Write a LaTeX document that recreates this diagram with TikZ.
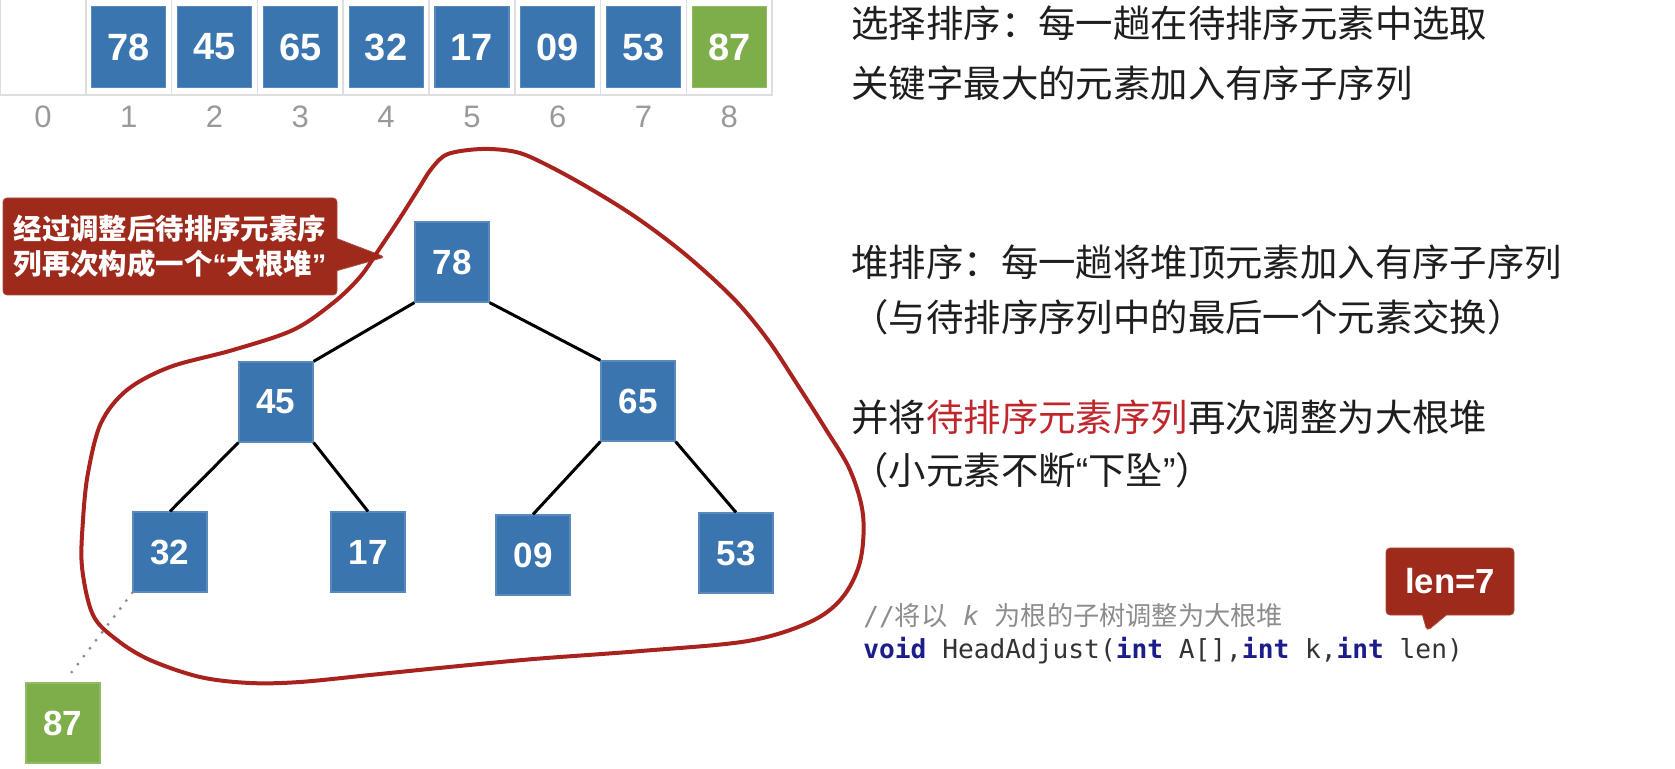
\documentclass[tikz,border=0pt]{standalone}
\usepackage{fontspec}
\setmainfont{Noto Sans CJK SC}
\newfontfamily\numfont{Liberation Sans}
\newfontfamily\codefont{DejaVu Sans Mono}
\usetikzlibrary{shapes.callouts}
\definecolor{heapblue}{RGB}{58,117,176}
\definecolor{heapgreen}{RGB}{125,174,74}
\definecolor{loopred}{RGB}{168,34,30}
\definecolor{notered}{RGB}{158,42,28}
\definecolor{hlred}{RGB}{192,39,45}
\definecolor{kwblue}{RGB}{28,28,138}
\definecolor{textgray}{RGB}{30,30,30}
\newcommand{\kw}[1]{\textcolor{kwblue}{\bfseries #1}}
\newcommand{\openq}{{\numfont “}}
\newcommand{\closeq}{{\numfont ”}}
\tikzstyle{heapnode} = [rectangle, fill=heapblue, draw=heapblue!85!white, line width=0.6pt, text=white, minimum width=37pt, minimum height=40pt, inner sep=0pt, font=\numfont\bfseries\fontsize{17.5}{17.5}\selectfont]
\tikzstyle{sortednode} = [heapnode, fill=heapgreen, draw=heapgreen!85!white]
\tikzstyle{arraycell} = [rectangle, draw=black!13, line width=0.8pt, minimum width=42.9pt, minimum height=48pt, inner sep=0pt]
\tikzstyle{indexlabel} = [text=black!40, inner sep=0pt, font=\numfont\fontsize{15.5}{15.5}\selectfont]
\tikzstyle{treeedge} = [black, line width=1.5pt]
\tikzstyle{loopline} = [loopred, line width=2pt, line join=round]
\tikzstyle{plaintext} = [anchor=west, inner sep=0pt, text=textgray, font=\fontsize{18.7}{18.7}\selectfont]
\tikzstyle{codetext} = [anchor=west, inner sep=0pt, font=\fontsize{13.1}{13.1}\selectfont]
\tikzstyle{notebox} = [rectangle callout, fill=notered, draw=notered!85!white, text=white, inner sep=0pt, rounded corners=2pt]

\begin{document}
\begin{tikzpicture}[x=0.5pt, y=-0.5pt]
            \useasboundingbox (0,0) rectangle (1675,769);

            % Array cells and indices
            \foreach \i in {0,...,8} {
                \node[arraycell] (cell\i) at ({42.9+85.8*\i},47) {};
                \node[indexlabel] (idx\i) at ({42.9+85.8*\i},117) {\i};
            }
            \node[heapnode, minimum height=40.5pt, font=\numfont\bfseries\fontsize{19}{19}\selectfont] (a1) at (cell1) {78};
            \node[heapnode, minimum height=40.5pt, font=\numfont\bfseries\fontsize{19}{19}\selectfont] (a2) at (cell2) {45};
            \node[heapnode, minimum height=40.5pt, font=\numfont\bfseries\fontsize{19}{19}\selectfont] (a3) at (cell3) {65};
            \node[heapnode, minimum height=40.5pt, font=\numfont\bfseries\fontsize{19}{19}\selectfont] (a4) at (cell4) {32};
            \node[heapnode, minimum height=40.5pt, font=\numfont\bfseries\fontsize{19}{19}\selectfont] (a5) at (cell5) {17};
            \node[heapnode, minimum height=40.5pt, font=\numfont\bfseries\fontsize{19}{19}\selectfont] (a6) at (cell6) {09};
            \node[heapnode, minimum height=40.5pt, font=\numfont\bfseries\fontsize{19}{19}\selectfont] (a7) at (cell7) {53};
            \node[sortednode, minimum height=40.5pt, font=\numfont\bfseries\fontsize{19}{19}\selectfont] (a8) at (cell8) {87};

            % Defining heap nodes
            \node[heapnode] (n78) at (452,262) {78};
            \node[heapnode] (n45) at (276,402) {45};
            \node[heapnode] (n65) at (638,401) {65};
            \node[heapnode] (n32) at (170,552) {32};
            \node[heapnode] (n17) at (368,552) {17};
            \node[heapnode] (n09) at (533,555) {09};
            \node[heapnode] (n53) at (736,553) {53};
            \node[sortednode] (n87) at (63,723) {87};

            % Drawing tree
            \draw[treeedge] (n78.south west) -- (n45.north east);
            \draw[treeedge] (n78.south east) -- (n65.north west);
            \draw[treeedge] (n45.south west) -- (n32.north);
            \draw[treeedge] (n45.south east) -- (n17.north);
            \draw[treeedge] (n65.south west) -- (n09.north);
            \draw[treeedge] (n65.south east) -- (n53.north);
            \draw[black!45, line width=1.6pt, dash pattern=on 0pt off 5pt, line cap=round] (n32.south west) -- ([xshift=3.5pt, yshift=4pt]n87.north);

            % Callouts
            \node[notebox, minimum width=167pt, minimum height=48.5pt, align=left, callout absolute pointer={(385,257)}, callout pointer width=16pt, font=\bfseries\fontsize{14.2}{17.5}\selectfont] (note) at (170,246.5) {经过调整后待排序元素序\\列再次构成一个\openq 大根堆\closeq};
            \node[notebox, minimum width=64pt, minimum height=33.5pt, callout absolute pointer={(1427,631)}, callout pointer width=12pt, font=\numfont\bfseries\fontsize{17.4}{17.4}\selectfont] (lenbox) at (1450,581.5) {len=7};

            % Red loop round the unsorted part
            \draw[loopline] plot[smooth cycle, tension=0.55] coordinates {(448,154) (482,149) (516,152) (545,164) (589,188) (637,218) (686,255) (734,299) (768,340) (797,384) (825,428) (850,470) (863,515) (860,562) (842,598) (810,622) (748,641) (641,651) (534,659) (449,667) (370,675) (300,682) (250,683) (200,677) (150,660) (117,640) (93,615) (82,567) (83,520) (88,473) (101,423) (127,390) (170,367) (233,350) (293,330) (333,303) (360,277) (380,248) (400,218) (419,188) (432,168)};

            % Text on the right
            \node[plaintext] (t1) at (851,23.5) {选择排序：每一趟在待排序元素中选取};
            \node[plaintext] (t2) at (851,83) {关键字最大的元素加入有序子序列};
            \node[plaintext] (t3) at (851,262) {堆排序：每一趟将堆顶元素加入有序子序列};
            \node[plaintext] (t4) at (851,317) {（与待排序序列中的最后一个元素交换）};
            \node[plaintext] (t5) at (851,417) {并将\textcolor{hlred}{待排序元素序列}再次调整为大根堆};
            \node[plaintext] (t6) at (851,470) {（小元素不断\openq 下坠\closeq ）};
            \node[codetext, text=black!45] (c1) at (863,616) {{\codefont //}将以{\codefont\ \textit{k}\ }为根的子树调整为大根堆};
            \node[codetext, text=black!80] (c2) at (863,651) {\codefont\kw{void} HeadAdjust(\kw{int} A[],\kw{int} k,\kw{int} len)};
        \end{tikzpicture}
\end{document}
